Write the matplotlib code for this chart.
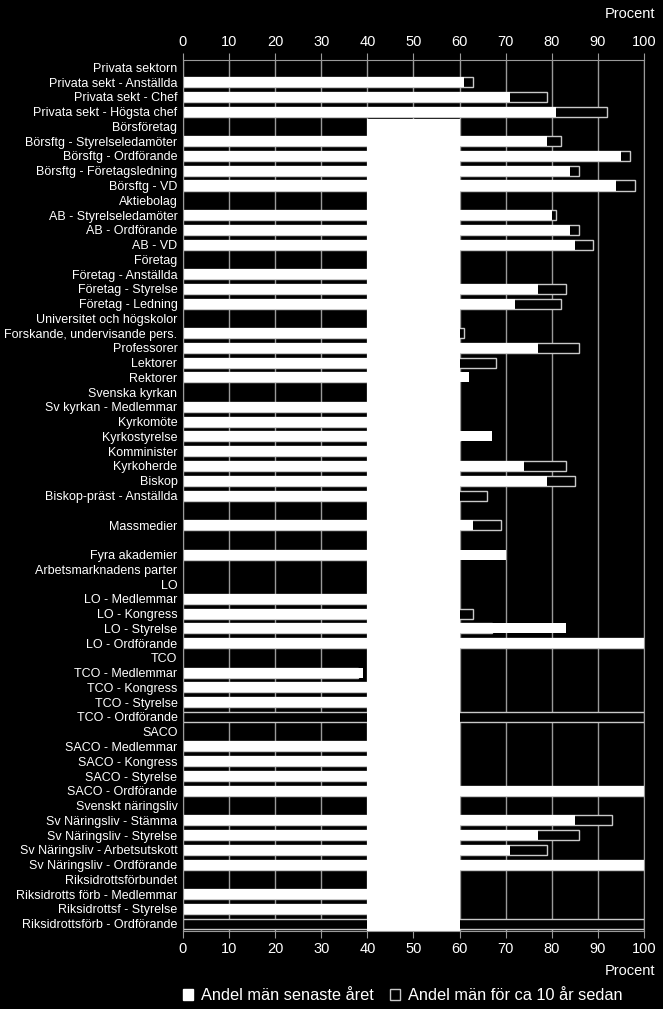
import numpy as np
import matplotlib
matplotlib.use("Agg")
import matplotlib.pyplot as plt
from matplotlib.patches import Patch

plt.rcParams['font.family'] = ['Liberation Sans', 'DejaVu Sans']

#%% data
categories = [
    "Privata sektorn", "Privata sekt - Anställda", "Privata sekt - Chef", "Privata sekt - Högsta chef",
    "Börsföretag", "Börsftg - Styrelseledamöter", "Börsftg - Ordförande", "Börsftg - Företagsledning", "Börsftg - VD",
    "Aktiebolag", "AB - Styrelseledamöter", "AB - Ordförande", "AB - VD",
    "Företag", "Företag - Anställda", "Företag - Styrelse", "Företag - Ledning",
    "Universitet och högskolor", "Forskande, undervisande pers.", "Professorer", "Lektorer", "Rektorer",
    "Svenska kyrkan", "Sv kyrkan - Medlemmar", "Kyrkomöte", "Kyrkostyrelse", "Komminister",
    "Kyrkoherde", "Biskop", "Biskop-präst - Anställda",
    "", "Massmedier", "", "Fyra akademier",
    "Arbetsmarknadens parter", "LO", "LO - Medlemmar", "LO - Kongress", "LO - Styrelse", "LO - Ordförande",
    "TCO", "TCO - Medlemmar", "TCO - Kongress", "TCO - Styrelse", "TCO - Ordförande",
    "SACO", "SACO - Medlemmar", "SACO - Kongress", "SACO - Styrelse", "SACO - Ordförande",
    "Svenskt näringsliv", "Sv Näringsliv - Stämma", "Sv Näringsliv - Styrelse",
    "Sv Näringsliv - Arbetsutskott", "Sv Näringsliv - Ordförande",
    "Riksidrottsförbundet", "Riksidrotts förb - Medlemmar", "Riksidrottsf - Styrelse",
    "Riksidrottsförb - Ordförande",
]

nan = np.nan
# andel män senaste året
recent = [
    nan, 61, 71, 81,
    nan, 79, 95, 84, 94,
    nan, 80, 84, 85,
    nan, 54, 77, 72,
    nan, 55, 77, 57, 62,
    nan, 46, 50, 67, 55,
    74, 79, 58,
    nan, 63, nan, 70,
    nan, nan, 54, 56, 83, 100,
    nan, 39, 50, 55, 0,
    nan, 48, 52, 56, 100,
    nan, 85, 77, 71, 100,
    nan, 58, 55, 0,
]
# andel män för ca 10 år sedan
old = [
    nan, 63, 79, 92,
    nan, 82, 97, 86, 98,
    nan, 81, 86, 89,
    nan, 56, 83, 82,
    nan, 61, 86, 68, 58,
    nan, 48, 58, 60, 58,
    83, 85, 66,
    nan, 69, nan, 58,
    nan, nan, 55, 63, 67, 100,
    nan, 38, 55, 58, 100,
    nan, 52, 55, 58, 100,
    nan, 93, 86, 79, 100,
    nan, 59, 58, 100,
]

xticks = list(range(0, 101, 10))

#%% plot
fig = plt.figure(figsize=(6.63, 10.09), dpi=100, facecolor='black')
ax = fig.add_axes([0.276, 0.0773, 0.6953, 0.8632], facecolor='black')

y = np.arange(len(categories))
grey = '#9a9a9a'

ax.barh(y, old, height=0.68, color='black', edgecolor='#c8c8c8', linewidth=1, zorder=2)
ax.barh(y, recent, height=0.68, color='white', edgecolor='none', zorder=3)

# vit zon 40-60
ax.fill_betweenx([3.48, len(categories) - 0.3], 40, 60, color='white', lw=0, zorder=4)

ax.set_xlim(0, 100)
ax.set_ylim(len(categories) - 0.5, -0.5)
ax.set_xticks(xticks)
ax.set_yticks(y)
ax.set_yticklabels(categories, fontsize=9, color='white')
ax.tick_params(axis='y', length=0, pad=4)
ax.tick_params(axis='x', top=True, labeltop=True, colors=grey, labelcolor='white',
               labelsize=10.5, length=5, direction='out', pad=3)
ax.xaxis.grid(True, color=grey, linewidth=1)
ax.set_axisbelow(True)
for s in ax.spines.values():
    s.set_color(grey)
    s.set_zorder(5)

fig.text(0.988, 0.993, "Procent", ha='right', va='top', color='white', fontsize=10.5)
fig.text(0.988, 0.038, "Procent", ha='right', va='center', color='white', fontsize=10.5)

handles = [Patch(facecolor='white', edgecolor='white'),
           Patch(facecolor='black', edgecolor='#c8c8c8')]
fig.legend(handles, ["Andel män senaste året", "Andel män för ca 10 år sedan"],
           loc='center', bbox_to_anchor=(0.608, 0.013), ncol=2, frameon=False,
           fontsize=11.8, labelcolor='white', handlelength=0.6, handleheight=0.6,
           handletextpad=0.5, columnspacing=1.0, borderaxespad=0)

fig.savefig("out.png", dpi=100, facecolor='black')
